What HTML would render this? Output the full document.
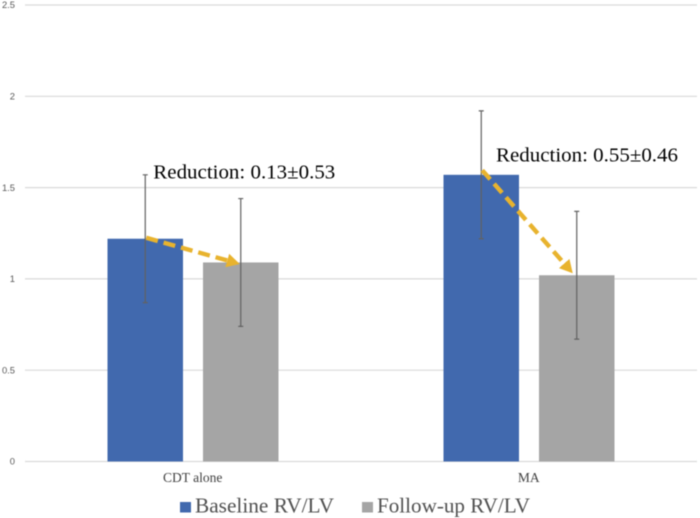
<!DOCTYPE html>
<html lang="en">
<head>
<meta charset="utf-8">
<title>RV/LV reduction chart</title>
<style>
html,body{margin:0;padding:0;background:#fff;width:700px;height:518px;overflow:hidden}
svg{display:block;filter:blur(0.4px)}
.tick{font:9.4px "Liberation Sans",sans-serif;fill:#595959}
.cat{font:13.5px "Liberation Serif",serif;fill:#404040}
.note{font:20px "Liberation Serif",serif;fill:#000}
.leg{font:21px "Liberation Serif",serif;fill:#505050}
</style>
</head>
<body>
<svg id="chart" width="700" height="518" viewBox="0 0 700 518" xmlns="http://www.w3.org/2000/svg">
<defs>
<marker id="arrowhead" markerUnits="userSpaceOnUse" markerWidth="16" markerHeight="16" refX="5" refY="7" orient="auto">
<path d="M0,0 L13,7 L0,14 Z" fill="#e8b32e"/>
</marker>
</defs>
</svg>
<script>
const categories = ['CDT alone', 'MA'];
const seriesNames = ['Baseline RV/LV', 'Follow-up RV/LV'];
const baseline = [1.22, 1.57];
const followUp = [1.09, 1.02];
const baselineErr = [0.35, 0.35];
const followUpErr = [0.35, 0.35];
const yTicks = [0, 0.5, 1, 1.5, 2, 2.5];
const reductionLabels = ['Reduction: 0.13±0.53', 'Reduction: 0.55±0.46'];

const svg = document.getElementById('chart');
const NS = 'http://www.w3.org/2000/svg';
const plotL = 25, plotR = 697, y0 = 461.5, y25 = 5;
const colors = ['#4169ae', '#a5a5a5'];
const barW = 75.5, barGap = 20;

function yScale(v) { return y0 - (v / 2.5) * (y0 - y25); }
function catCenter(i) { return plotL + (plotR - plotL) * (i + 0.5) / categories.length; }
function barX(i, s) { return catCenter(i) + (s === 0 ? -barGap / 2 - barW : barGap / 2); }
function make(tag, attrs, text) {
  const el = document.createElementNS(NS, tag);
  for (const k in attrs) el.setAttribute(k, attrs[k]);
  if (text !== undefined) el.textContent = text;
  svg.appendChild(el);
  return el;
}

yTicks.forEach(function (t) {
  const line = make('line', {x1: plotL, x2: plotR, y1: yScale(t), y2: yScale(t), stroke: '#d9d9d9', 'stroke-width': 1.2});
  
  
  const label = make('text', {x: 15, y: yScale(t) + 3.2, 'text-anchor': 'end', class: 'tick'}, String(t));
  
  
});

[baseline, followUp].forEach(function (values, s) {
  values.forEach(function (v, i) {
    const bar = make('rect', {x: barX(i, s), y: yScale(v), width: barW, height: y0 - yScale(v), fill: colors[s]});
    
    
  });
});

[[baseline, baselineErr], [followUp, followUpErr]].forEach(function (pair, s) {
  pair[0].forEach(function (v, i) {
    const e = pair[1][i];
    const cx = barX(i, s) + barW / 2;
    const hi = yScale(v + e), lo = yScale(v - e);
    const d = 'M' + cx + ',' + hi + 'V' + lo + 'M' + (cx - 2.5) + ',' + hi + 'H' + (cx + 2.5) + 'M' + (cx - 2.5) + ',' + lo + 'H' + (cx + 2.5);
    const err = make('path', {d: d, stroke: '#626262', 'stroke-width': 1.2, fill: 'none'});
    
    
  });
});

categories.forEach(function (c, i) {
  const label = make('text', {x: catCenter(i) - 0.3, y: 482, 'text-anchor': 'middle', class: 'cat'}, c);
  
  
});

const startLift = [1, 4.5];
const endLift = [-1.5, 2];
const endShiftX = [-1, -4];
categories.forEach(function (c, i) {
  const x1 = barX(i, 0) + barW / 2 + 1;
  const y1 = yScale(baseline[i]) - startLift[i];
  const tipX = barX(i, 1) + barW / 2 + endShiftX[i];
  const tipY = yScale(followUp[i]) - endLift[i];
  const len = Math.hypot(tipX - x1, tipY - y1);
  const x2 = tipX - (tipX - x1) / len * 8;
  const y2 = tipY - (tipY - y1) / len * 8;
  const arrow = make('line', {
    x1: x1, y1: y1, x2: x2, y2: y2,
    stroke: '#e8b32e', 'stroke-width': 4.4, 'stroke-dasharray': '12 6', 'marker-end': 'url(#arrowhead)'
  });
  
  
});

const noteX = [153.3, 496];
const noteY = [178.5, 161.5];
reductionLabels.forEach(function (t, i) {
  const note = make('text', {x: noteX[i], y: noteY[i], class: 'note', textLength: 182, lengthAdjust: 'spacingAndGlyphs'}, t);
  
  
});

const legSwatchX = [180, 362];
const legTextX = [195, 377];
const legTextW = [139, 153];
seriesNames.forEach(function (n, s) {
  const sw = make('rect', {x: legSwatchX[s], y: 502, width: 11, height: 10.5, fill: colors[s]});
  
  
  const tx = make('text', {x: legTextX[s], y: 512.7, class: 'leg', textLength: legTextW[s], lengthAdjust: 'spacingAndGlyphs'}, n);
  
  
});
</script>
</body>
</html>
